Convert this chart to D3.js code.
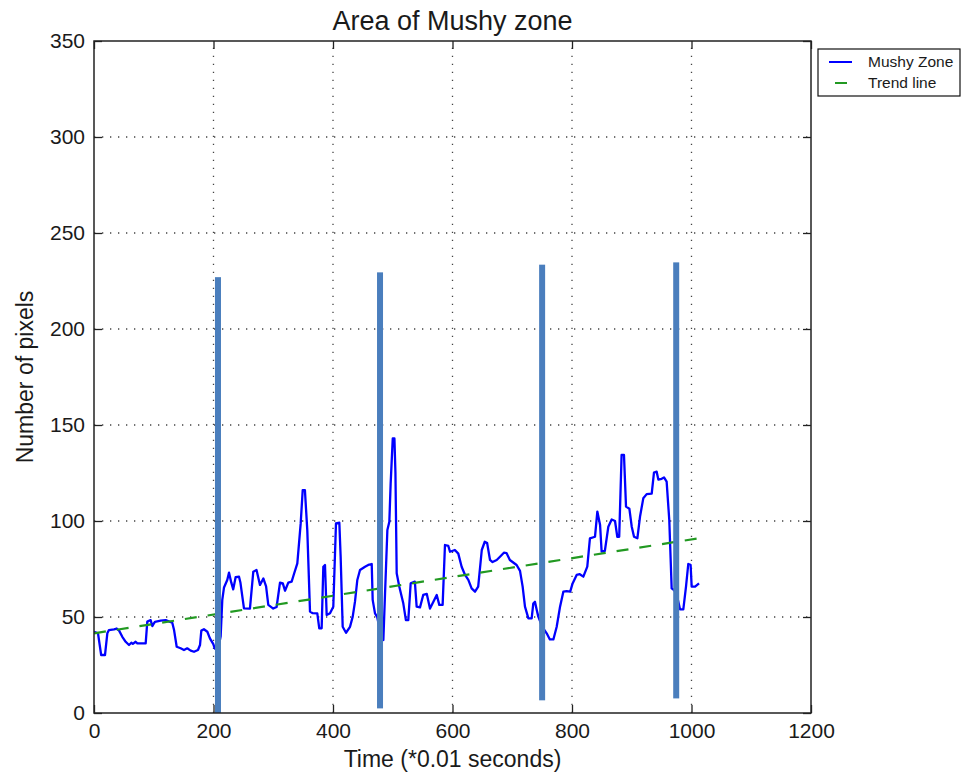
<!DOCTYPE html>
<html>
<head>
<meta charset="utf-8">
<script src="https://cdn.jsdelivr.net/npm/d3@7"></script>
<style>
  html, body { margin: 0; padding: 0; background: #fff; }
  svg { display: block; font-family: "Liberation Sans", Arial, sans-serif; }
</style>
</head>
<body>
<svg id="chart" width="961" height="774"></svg>
<script>
// Mushy zone area over time (time in units of 0.01 s)
const mushyTime = [
  0, 6.7, 12, 18.4, 22.3, 25, 33.5, 38, 42, 47.4, 53, 58.6, 62.5, 65, 69.7, 72.5, 86.5,
  89.2, 94.8, 97.6, 100, 102, 111.6, 120, 131, 134, 138.4, 145, 150.6, 156, 161.8, 167.4,
  174, 177.4, 179.6, 184, 189.7, 194, 199.7, 202, 207, 212, 214.7, 217.6, 223, 226, 229.7,
  233, 237, 242.7, 245, 251, 261, 266.6, 272, 277.8, 283.4, 288, 291.7, 300, 305.6, 311.3,
  316, 319.7, 325.2, 330.8, 334.7, 340.3, 345.9, 349.3, 353, 357, 361.5, 366, 373.7, 377,
  381, 383.8, 386.6, 389.4, 395, 400.5, 405, 410.6, 412.8, 416.2, 421.8, 428.5, 433, 436.8,
  440.7, 445.2, 453.6, 459, 464.8, 466.4, 470.3, 474, 479, 484.3, 487, 491, 494.3, 496.5,
  500, 502.8, 504.5, 506.6, 511, 517.7, 522, 526, 530, 537, 540, 545.6, 551, 557, 562.3,
  568, 573.6, 577.9, 583.5, 587.4, 593, 595.8, 604, 609.7, 615.3, 621, 626.5, 632, 637.7,
  643, 649, 654, 658, 662.8, 667, 674, 679.5, 686, 690.4, 696, 707.3, 713, 717.4, 721.3,
  727, 732.5, 735.2, 738, 741, 743.6, 750, 757.6, 763, 768.8, 774.4, 780, 785.5, 791, 797,
  801, 807.8, 813, 819, 825.6, 830, 838.5, 842.4, 847, 849.6, 855, 860.8, 866.4, 872,
  875.8, 879, 883, 887, 890.4, 896, 900, 903.8, 909.4, 913.8, 919.3, 925, 933.4, 937.2,
  941.7, 944.5, 950, 954, 958.4, 962.8, 966.8, 970.6, 975, 980.8, 986.3, 990.8, 994.6,
  998.5, 1000.3, 1006, 1012.6
];
const mushyPixels = [
  42.3, 41.5, 30.2, 30.2, 41.5, 43.2, 43.6, 44, 42.9, 39.7, 37.1, 35.4, 36.6, 36, 37.1, 36.3, 36.3,
  47.6, 48.4, 45.3, 46.5, 47.5, 48.1, 48.4, 47, 43.2, 34.5, 33.7, 32.8, 33.7, 32.5, 31.9,
  32.8, 35.4, 42.9, 43.6, 42.3, 38.9, 35.9, 33.7, 32, 40, 58.9, 65.4, 69.3, 73.1, 68,
  64.4, 70.7, 71, 68, 54.5, 54.4, 73.6, 74.5, 66.7, 70.1, 66, 56.3, 54.4, 55.2, 67.9,
  67.5, 63.7, 67.9, 68.4, 72.4, 77.9, 98.6, 116.1, 116.1, 95, 52.8, 52, 51.9, 44.1,
  44.1, 76.2, 77.1, 51, 51.9, 55.4, 98.8, 99.1, 81.4, 44.9, 41.8, 44.9, 50.2, 58,
  69.3, 74.5, 76.2, 77.1, 77.6, 58.9, 51.9, 50, 42, 38, 61.5, 95.3, 99.6, 119.6,
  143, 143, 125, 72.8, 65.8, 57, 48.4, 48.4, 67.5, 68.4, 55.4, 55, 61.5, 62, 54.4,
  58, 61.5, 56.3, 56.3, 87.5, 87, 84, 84.9, 83, 76.2, 71.9, 69.3, 64.9, 63.2,
  65.8, 84.9, 89.2, 88.5, 79.7, 78.6, 79.7, 81.4, 83.5, 83.3, 79.7, 77.1, 74, 65.8, 55.4,
  49.3, 49.3, 57, 57.9, 53.6, 50.2, 45, 41.5, 38.3, 38.3, 44.9, 55.4, 63.2, 63.5, 63.2,
  67.5, 71.9, 72.3, 71, 76.2, 91, 91.8, 104.9, 97.9, 84, 84.4, 97, 100.8, 100,
  91.8, 91.8, 134.4, 134.4, 107.5, 106.4, 97, 91.8, 91, 102.2, 111.8, 114, 114.3, 125.2,
  125.7, 121.6, 122, 122.7, 120.5, 100.5, 64.9, 64.1, 62, 54, 54, 65.8, 77.6,
  77.2, 65.8, 65.8, 67.5
];

// Linear trend line endpoints
const trendTime = [0, 1012];
const trendPixels = [41.5, 91];

// Vertical event markers: position, top and bottom values
const markerTime = [207.5, 478.7, 750, 974.4];
const markerTop = [227, 229.5, 233.5, 234.7];
const markerBottom = [0, 2.4, 6.6, 7.6];

// Axis ticks
const xTicks = [0, 200, 400, 600, 800, 1000, 1200];
const yTicks = [0, 50, 100, 150, 200, 250, 300, 350];

const legendLabels = ["Mushy Zone", "Trend line"];
const titleText = "Area of Mushy zone";
const xLabel = "Time (*0.01 seconds)";
const yLabel = "Number of pixels";

const margin = { left: 94, right: 150, top: 41, bottom: 61 };
const W = 961, H = 774;
const plotW = W - margin.left - margin.right; // 717
const plotH = H - margin.top - margin.bottom; // 672

const svg = d3.select("#chart");
const x = d3.scaleLinear().domain([0, 1200]).range([margin.left, margin.left + plotW]);
const y = d3.scaleLinear().domain([0, 350]).range([margin.top + plotH, margin.top]);

const x0 = x(0), x1 = x(1200), y0 = y(0), y1 = y(350);

// Dotted grid
const grid = svg.append("g").attr("stroke", "#444").attr("stroke-width", 1.3)
  .attr("stroke-dasharray", "1.3,6.7");
grid.selectAll("line.gx").data(xTicks.slice(1, -1)).join("line")
  .attr("class", "gx")
  .attr("x1", d => x(d)).attr("x2", d => x(d)).attr("y1", y0).attr("y2", y1);
grid.selectAll("line.gy").data(yTicks.slice(1, -1)).join("line")
  .attr("class", "gy")
  .attr("x1", x0).attr("x2", x1).attr("y1", d => y(d)).attr("y2", d => y(d));

// Clip to plot area
svg.append("clipPath").attr("id", "plotclip").append("rect")
  .attr("x", x0).attr("y", y1).attr("width", x1 - x0).attr("height", y0 - y1);
const plot = svg.append("g").attr("clip-path", "url(#plotclip)");

// Mushy zone series
const series = mushyTime.map((t, i) => [t, mushyPixels[i]]);
plot.append("path").datum(series)
  .attr("fill", "none").attr("stroke", "#0000ff").attr("stroke-width", 2.3)
  .attr("stroke-linejoin", "round")
  .attr("d", d3.line().x(d => x(d[0])).y(d => y(d[1])));

// Trend line
const trend = trendTime.map((t, i) => [t, trendPixels[i]]);
plot.append("path").datum(trend)
  .attr("fill", "none").attr("stroke", "#229922").attr("stroke-width", 2.2)
  .attr("stroke-dasharray", "12,11")
  .attr("d", d3.line().x(d => x(d[0])).y(d => y(d[1])));

// Event markers
plot.selectAll("rect.marker").data(markerTime).join("rect")
  .attr("class", "marker")
  .attr("x", d => x(d) - 3).attr("width", 6)
  .attr("y", (d, i) => y(markerTop[i]))
  .attr("height", (d, i) => y(markerBottom[i]) - y(markerTop[i]))
  .attr("fill", "#4a7ebd");

// Axes with inward ticks on all four sides
const tickLen = 8;
const axisColor = "#222";
const fmt = d3.format("d");
const axes = svg.append("g");
axes.append("g").attr("transform", `translate(0,${y0})`)
  .call(d3.axisBottom(x).tickValues(xTicks).tickFormat(fmt).tickSizeInner(-tickLen).tickSizeOuter(0).tickPadding(10))
  .call(g => g.select(".domain").remove());
axes.append("g").attr("transform", `translate(0,${y1})`)
  .call(d3.axisTop(x).tickValues(xTicks).tickSizeInner(-tickLen).tickSizeOuter(0).tickFormat(""))
  .call(g => g.select(".domain").remove());
axes.append("g").attr("transform", `translate(${x0},0)`)
  .call(d3.axisLeft(y).tickValues(yTicks).tickFormat(fmt).tickSizeInner(-tickLen).tickSizeOuter(0).tickPadding(9))
  .call(g => g.select(".domain").remove());
axes.append("g").attr("transform", `translate(${x1},0)`)
  .call(d3.axisRight(y).tickValues(yTicks).tickSizeInner(-tickLen).tickSizeOuter(0).tickFormat(""))
  .call(g => g.select(".domain").remove());
axes.selectAll(".tick line").attr("stroke", axisColor).attr("stroke-width", 1.3);
axes.selectAll(".tick text")
  .attr("font-family", "'Liberation Sans', Arial, sans-serif")
  .attr("font-size", 21).attr("fill", "#1a1a1a");

// Frame
svg.append("rect").attr("x", x0).attr("y", y1).attr("width", x1 - x0).attr("height", y0 - y1)
  .attr("fill", "none").attr("stroke", axisColor).attr("stroke-width", 1.5);

// Title and axis labels
svg.append("text").attr("x", (x0 + x1) / 2).attr("y", 30)
  .attr("text-anchor", "middle").attr("font-size", 27).attr("fill", "#1a1a1a").text(titleText);
svg.append("text").attr("x", (x0 + x1) / 2).attr("y", 767)
  .attr("text-anchor", "middle").attr("font-size", 23).attr("fill", "#1a1a1a").text(xLabel);
svg.append("text").attr("transform", `translate(33,${(y0 + y1) / 2}) rotate(-90)`)
  .attr("text-anchor", "middle").attr("font-size", 23).attr("fill", "#1a1a1a").text(yLabel);

// Legend
const lg = svg.append("g").attr("transform", "translate(818,49)");
lg.append("rect").attr("width", 142).attr("height", 47)
  .attr("fill", "#fff").attr("stroke", "#111").attr("stroke-width", 1.2);
const legendStyles = [
  { color: "#0000ff", dash: null, offset: 0 },
  { color: "#229922", dash: "12,11", offset: 17 }
];
legendLabels.forEach((label, i) => {
  const ly = 13 + i * 21;
  lg.append("line").attr("x1", 11).attr("x2", 34).attr("y1", ly).attr("y2", ly)
    .attr("stroke", legendStyles[i].color).attr("stroke-width", 2)
    .attr("stroke-dasharray", legendStyles[i].dash)
    .attr("stroke-dashoffset", legendStyles[i].offset);
  lg.append("text").attr("x", 50).attr("y", ly + 5)
    .attr("font-size", 15.5).attr("fill", "#1a1a1a").text(label);
});
</script>
</body>
</html>
